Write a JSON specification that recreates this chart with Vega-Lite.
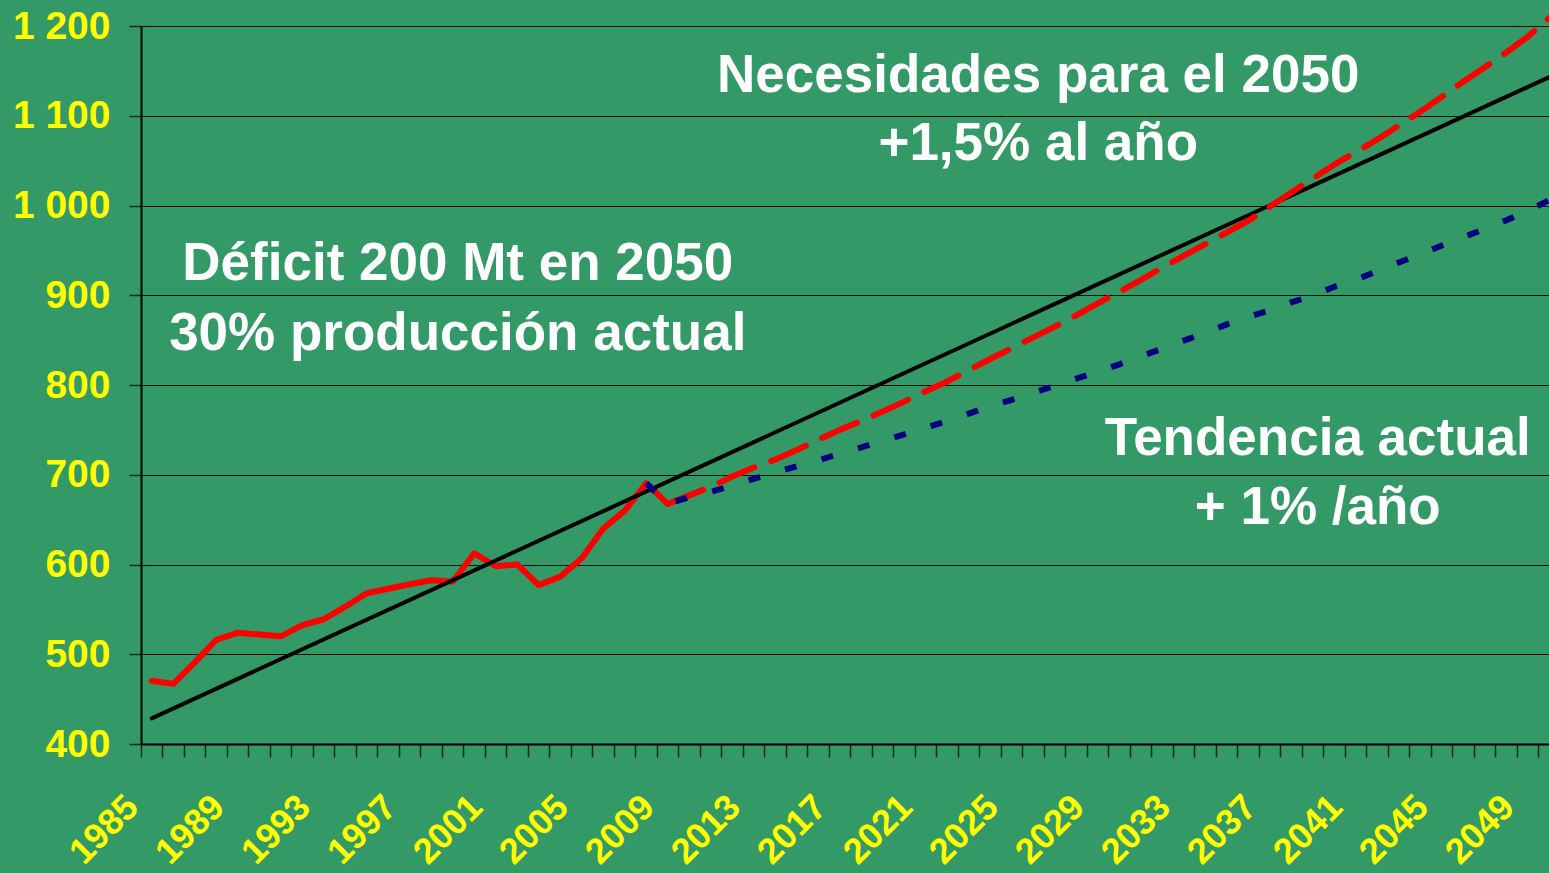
{
  "$schema": "https://vega.github.io/schema/vega-lite/v6.json",
  "width": 1419,
  "height": 718,
  "autosize": {"type": "none"},
  "padding": {"left": 141, "top": 26, "right": -11, "bottom": 129},
  "background": "#339966",
  "config": {
    "view": {"stroke": null},
    "font": "Liberation Sans"
  },
  "datasets": {
    "produccion": [
      {"year": 1985, "value": 470.5}, {"year": 1986, "value": 467}, {"year": 1987, "value": 491},
      {"year": 1988, "value": 516}, {"year": 1989, "value": 524}, {"year": 1990, "value": 522},
      {"year": 1991, "value": 520}, {"year": 1992, "value": 532.5}, {"year": 1993, "value": 539},
      {"year": 1994, "value": 553}, {"year": 1995, "value": 568}, {"year": 1996, "value": 573},
      {"year": 1997, "value": 578}, {"year": 1998, "value": 582.5}, {"year": 1999, "value": 581},
      {"year": 2000, "value": 612.5}, {"year": 2001, "value": 598}, {"year": 2002, "value": 600},
      {"year": 2003, "value": 577}, {"year": 2004, "value": 586.5}, {"year": 2005, "value": 607},
      {"year": 2006, "value": 640}, {"year": 2007, "value": 660}, {"year": 2008, "value": 690.5},
      {"year": 2009, "value": 667.5}
    ],
    "lineal": [
      {"year": 1985, "value": 428.6}, {"year": 2050, "value": 1143}
    ],
    "necesidades": [
      {"year": 2009, "value": 667.5}, {"year": 2010, "value": 677}, {"year": 2011, "value": 686.5},
      {"year": 2012, "value": 698}, {"year": 2013, "value": 708}, {"year": 2014, "value": 717},
      {"year": 2015, "value": 727.5}, {"year": 2016, "value": 739}, {"year": 2017, "value": 750},
      {"year": 2018, "value": 760}, {"year": 2019, "value": 770.5}, {"year": 2020, "value": 781.5},
      {"year": 2021, "value": 793}, {"year": 2022, "value": 804}, {"year": 2023, "value": 816.5},
      {"year": 2024, "value": 829}, {"year": 2025, "value": 841}, {"year": 2026, "value": 853},
      {"year": 2027, "value": 865}, {"year": 2028, "value": 877.5}, {"year": 2029, "value": 891},
      {"year": 2030, "value": 903.5}, {"year": 2031, "value": 917}, {"year": 2032, "value": 931},
      {"year": 2033, "value": 944}, {"year": 2034, "value": 957}, {"year": 2035, "value": 970},
      {"year": 2036, "value": 983}, {"year": 2037, "value": 998.5}, {"year": 2038, "value": 1014.5},
      {"year": 2039, "value": 1030}, {"year": 2040, "value": 1045.5}, {"year": 2041, "value": 1059.5},
      {"year": 2042, "value": 1073.5}, {"year": 2043, "value": 1089}, {"year": 2044, "value": 1104.5},
      {"year": 2045, "value": 1121}, {"year": 2046, "value": 1138}, {"year": 2047, "value": 1154},
      {"year": 2048, "value": 1170.5}, {"year": 2049, "value": 1188}, {"year": 2050, "value": 1209}
    ],
    "tendencia": [
      {"year": 2008, "value": 690.5}, {"year": 2009, "value": 667.5}, {"year": 2010, "value": 675},
      {"year": 2011, "value": 681}, {"year": 2012, "value": 688}, {"year": 2013, "value": 695.5},
      {"year": 2014, "value": 702.5}, {"year": 2015, "value": 709.5}, {"year": 2016, "value": 716},
      {"year": 2017, "value": 723.5}, {"year": 2018, "value": 730.5}, {"year": 2019, "value": 738},
      {"year": 2020, "value": 745}, {"year": 2021, "value": 752.5}, {"year": 2022, "value": 760},
      {"year": 2023, "value": 768}, {"year": 2024, "value": 776.5}, {"year": 2025, "value": 783.5},
      {"year": 2026, "value": 791.5}, {"year": 2027, "value": 799}, {"year": 2028, "value": 807},
      {"year": 2029, "value": 815}, {"year": 2030, "value": 823}, {"year": 2031, "value": 832},
      {"year": 2032, "value": 840.5}, {"year": 2033, "value": 849.5}, {"year": 2034, "value": 858},
      {"year": 2035, "value": 867.5}, {"year": 2036, "value": 876}, {"year": 2037, "value": 883},
      {"year": 2038, "value": 892}, {"year": 2039, "value": 899.5}, {"year": 2040, "value": 909.5},
      {"year": 2041, "value": 917}, {"year": 2042, "value": 927}, {"year": 2043, "value": 936.5},
      {"year": 2044, "value": 945.5}, {"year": 2045, "value": 955.5}, {"year": 2046, "value": 964.5},
      {"year": 2047, "value": 974}, {"year": 2048, "value": 983.5}, {"year": 2049, "value": 994},
      {"year": 2050, "value": 1006}
    ],
    "textos": [
      {"year": 2026, "value": 1126.5, "label": "Necesidades para el 2050"},
      {"year": 2026, "value": 1050.7, "label": "+1,5% al año"},
      {"year": 1999, "value": 917, "label": "Déficit 200 Mt en 2050"},
      {"year": 1999, "value": 839, "label": "30% producción actual"},
      {"year": 2039, "value": 722, "label": "Tendencia actual"},
      {"year": 2039, "value": 645, "label": "+ 1% /año"}
    ]
  },
  "encoding": {
    "x": {
      "field": "year",
      "type": "ordinal",
      "scale": {"type": "band", "paddingInner": 0, "paddingOuter": 0},
      "axis": {
        "bandPosition": 0,
        "domainColor": "#000000",
        "domainWidth": 2,
        "tickColor": "#0f2a1a",
        "tickSize": 13,
        "tickWidth": 1.5,
        "labelAngle": -45,
        "labelAlign": "right",
        "labelBaseline": "middle",
        "labelPadding": 44,
        "labelOffset": -19,
        "labelFont": "Liberation Sans",
        "labelFontWeight": "bold",
        "labelFontSize": 36,
        "labelColor": "#FFFF00",
        "labelOverlap": false,
        "labelBound": false,
        "labelExpr": "(datum.value - 1985) % 4 == 0 ? datum.label : ''",
        "grid": false,
        "title": null
      }
    },
    "y": {
      "field": "value",
      "type": "quantitative",
      "scale": {"domain": [400, 1200], "nice": false, "zero": false},
      "axis": {
        "values": [400, 500, 600, 700, 800, 900, 1000, 1100, 1200],
        "grid": true,
        "gridColor": "#000000",
        "gridWidth": 1.1,
        "gridOpacity": 0.9,
        "domainColor": "#000000",
        "domainWidth": 2,
        "tickColor": "#0f2a1a",
        "tickSize": 12,
        "tickWidth": 1.5,
        "labelFont": "Liberation Sans",
        "labelFontWeight": "bold",
        "labelFontSize": 39,
        "labelColor": "#FFFF00",
        "labelPadding": 19,
        "labelBound": false,
        "labelOverlap": false,
        "labelExpr": "replace(format(datum.value, ','), ',', ' ')",
        "title": null
      }
    }
  },
  "layer": [
    {
      "data": {"name": "produccion"},
      "mark": {"type": "line", "color": "#FF0000", "strokeWidth": 6, "strokeJoin": "round", "strokeCap": "round"}
    },
    {
      "data": {"name": "lineal"},
      "mark": {"type": "line", "color": "#000000", "strokeWidth": 4, "strokeCap": "round"}
    },
    {
      "data": {"name": "necesidades"},
      "mark": {"type": "line", "color": "#FF0000", "strokeWidth": 6, "strokeDash": [38, 18], "strokeCap": "round", "strokeJoin": "round"}
    },
    {
      "data": {"name": "tendencia"},
      "mark": {"type": "line", "color": "#000080", "strokeWidth": 6, "strokeDash": [12, 26], "strokeCap": "butt"}
    },
    {
      "data": {"name": "textos"},
      "mark": {"type": "text", "color": "#FFFFFF", "font": "Liberation Sans", "fontWeight": "bold", "fontSize": 53, "align": "center", "baseline": "alphabetic", "dx": 5},
      "encoding": {"text": {"field": "label", "type": "nominal"}}
    }
  ]
}
